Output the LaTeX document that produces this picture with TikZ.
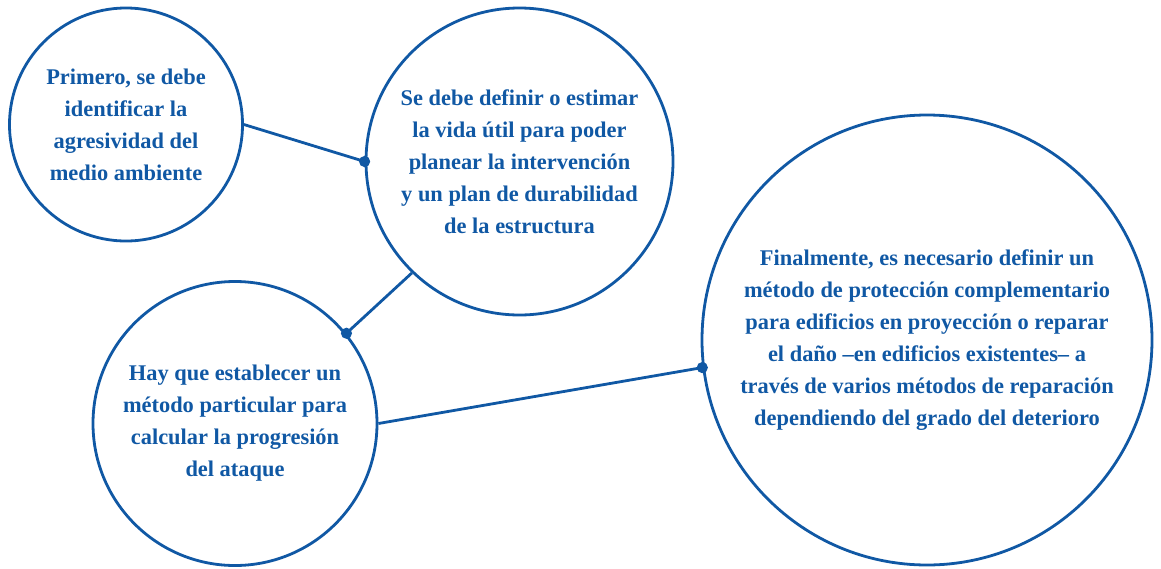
\documentclass[tikz,border=0pt]{standalone}
\usepackage{fontspec}
\setmainfont{Liberation Serif}
\usepackage{tikz}
\usetikzlibrary{shapes,positioning}

\definecolor{azul}{RGB}{16,88,164}

\tikzset{
    paso/.style={circle, draw=azul, line width=1.4pt, inner sep=0pt, align=center,
        text=azul, font=\fontsize{11.2}{16}\selectfont\bfseries},
    enlace/.style={draw=azul, line width=1.4pt},
}

\begin{document}
\begin{tikzpicture}[x=0.5pt, y=-0.5pt]
        \useasboundingbox (0,0) rectangle (1161,568);
        \node [paso, minimum size=116.5pt] (medio) at (126,124.5) {Primero, se debe\\identificar la\\agresividad del\\medio ambiente};
        \node [paso, minimum size=153.5pt] (vida) at (519.5,161.5) {Se debe definir o estimar\\la vida útil para poder\\planear la intervención\\y un plan de durabilidad\\de la estructura};
        \node [paso, minimum size=142pt] (metodo) at (235,423.5) {Hay que establecer un\\método particular para\\calcular la progresión\\del ataque};
        \node [paso, minimum size=225pt] (repara) at (927,340) {Finalmente, es necesario definir un\\método de protección complementario\\para edificios en proyección o reparar\\el daño –en edificios existentes– a\\través de varios métodos de reparación\\dependiendo del grado del deterioro};

        \draw [enlace] (medio.east) -- (vida.west);
        \draw [enlace] (vida.226) -- (metodo.39);
        \draw [enlace] (metodo.east) -- (repara.187);
        \fill [azul] (vida.west) circle (2.8pt);
        \fill [azul] (metodo.39) circle (2.8pt);
        \fill [azul] (repara.187) circle (2.8pt);
    \end{tikzpicture}
\end{document}
